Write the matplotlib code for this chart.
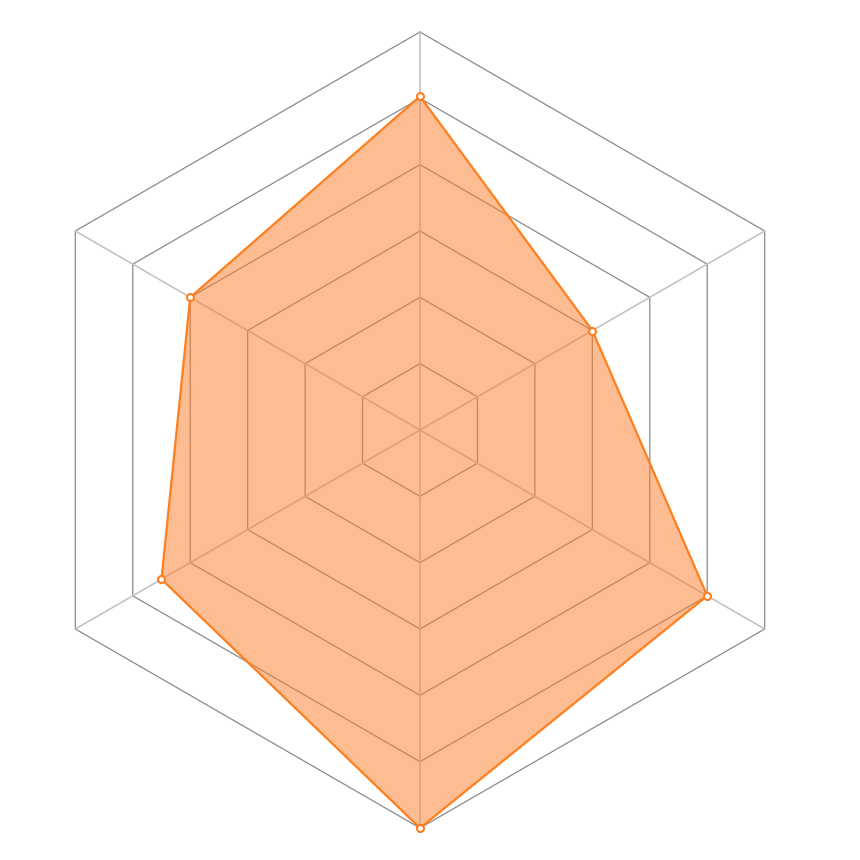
import numpy as np
import matplotlib
matplotlib.use('Agg')
import matplotlib.pyplot as plt

# Radar values, clockwise from the top axis
indicators = ['A', 'B', 'C', 'D', 'E', 'F']
values = [5.03, 3.0, 5.0, 6.0, 4.5, 4.0]
max_value = 6
rings = [1, 2, 3, 4, 5, 6]

n = len(indicators)
angles = np.linspace(0, 2 * np.pi, n, endpoint=False)
closed_angles = np.append(angles, angles[0])

fig = plt.figure(figsize=(8.6, 8.6), dpi=100)
size = 398 / 860
ax = fig.add_axes([420 / 860 - size, 0.5 - size, 2 * size, 2 * size], projection='polar')
ax.set_theta_offset(np.pi / 2)
ax.set_theta_direction(-1)
ax.set_ylim(0, max_value)
ax.grid(False)
ax.spines['polar'].set_visible(False)
ax.set_xticks([])
ax.set_yticks([])

# hexagonal split lines
for r in rings:
    ax.plot(closed_angles, [r] * (n + 1), color='#8a8a8a', linewidth=0.9, zorder=1, clip_on=False)

# radial axis lines
for a in angles:
    ax.plot([a, a], [0, max_value], color='#c4c4c4', linewidth=1.2, zorder=1, clip_on=False)

# data area
closed_values = values + values[:1]
ax.fill(closed_angles, closed_values, color='#fd7f2c', alpha=0.52, linewidth=0, zorder=2, clip_on=False)
ax.plot(closed_angles, closed_values, color='#ff7f1e', linewidth=1.6, zorder=3, clip_on=False)
ax.plot(angles, values, linestyle='none', marker='o', markersize=5, clip_on=False,
        markerfacecolor='white', markeredgecolor='#ff7f1e', markeredgewidth=1.5, zorder=4)

fig.savefig('out.png', dpi=100)
